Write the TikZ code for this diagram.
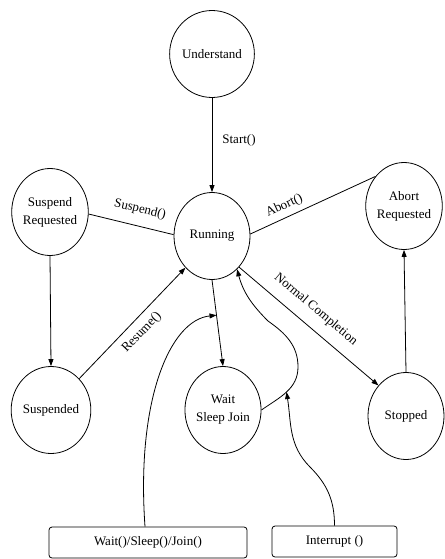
\documentclass[tikz,border=0pt]{standalone}
\usepackage{fontspec}
\setmainfont{Liberation Serif}
\usetikzlibrary{shapes.geometric,arrows.meta,calc}
\begin{document}
\begin{tikzpicture}[x=1pt,y=1pt,
  state/.style={ellipse,draw,line width=0.8pt,minimum width=76pt,minimum height=87pt,inner sep=0pt,align=center,font=\fontsize{13}{18}\selectfont},
  cmd/.style={rectangle,rounded corners=3pt,draw,line width=0.8pt,minimum height=31pt,inner sep=0pt,font=\fontsize{13}{16}\selectfont},
  conn/.style={line width=0.8pt},
  arr/.style={conn,-{Triangle[length=7pt,width=5pt]}},
  lbl/.style={inner sep=0pt,font=\fontsize{13}{16}\selectfont}]
\useasboundingbox (0,0) rectangle (444,-559);
% states
\node[state] (un) at (212,-54) {Understand};
\node[state] (rn) at (212,-236) {Running};
\node[state] (sr) at (50,-212) {Suspend\\Requested};
\node[state] (ar) at (404,-206) {Abort\\Requested};
\node[state] (sd) at (51,-410) {Suspended};
\node[state] (wsj) at (223,-410) {Wait\\Sleep Join};
\node[state] (st) at (406,-416) {Stopped};
% command boxes
\node[cmd,minimum width=198pt] (wb) at (148,-542.5) {Wait()/Sleep()/Join()};
\node[cmd,minimum width=125pt] (ib) at (334.5,-541.5) {Interrupt ()};
% waypoints
\coordinate (la) at (298,-367);
\coordinate (lb) at (268,-321);
\coordinate (ia) at (310,-467);
\coordinate (wc1) at (136,-400);
\coordinate (wc2) at (170,-320);
% connectors
\draw[arr] (un.south) -- node[lbl,pos=0.45,right=10pt]{Start()} (rn.north);
\draw[conn] (sr.-3) -- node[lbl,pos=0.56,sloped,above=10pt]{Suspend()} (rn.178);
\draw[conn] (rn.3) -- node[lbl,pos=0.31,sloped,above=5pt]{Abort()} (ar.134);
\draw[arr] (sr.south) -- (sd.north);
\draw[arr] (sd.48) -- node[lbl,pos=0.5,sloped,below=7pt]{Resume()} (rn.230);
\draw[arr] (rn.south) -- coordinate[pos=0.41] (wp) (wsj.north);
\draw[arr] (rn.-49) -- node[lbl,pos=0.47,sloped,above=11pt]{Normal Completion} (st.132);
\draw[arr] (st.north) -- (ar.south);
\draw[arr] (wsj.east) to[out=35,in=-90] coordinate[pos=0.5] (ip) (la) to[out=90,in=-35] (lb) to[out=135,in=-75] (rn.-53);
\draw[arr] (ib.north) to[out=90,in=-45] (ia) to[out=135,in=-81] (ip);
\draw[arr] ($(wb.north)+(-3,0)$) .. controls (wc1) and (wc2) .. (wp);
\end{tikzpicture}
\end{document}
